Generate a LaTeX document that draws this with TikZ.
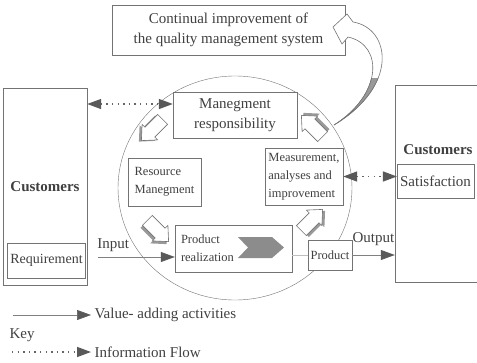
\documentclass[tikz,border=0pt]{standalone}
\usepackage{fontspec}
\setmainfont{Liberation Serif}
\usetikzlibrary{arrows.meta,positioning,calc}
\newcommand\bigtxt{\fontsize{15}{20}\selectfont}
\newcommand\smalltxt{\fontsize{12.5}{18}\selectfont}
% outline of the bent arrow back to the improvement box
\newcommand\bendpath{(353,22) .. controls (390,28) and (400,85) .. (334,125)
  .. controls (382,95) and (384,45) .. (348,37) -- (342,44) -- (333,27)
  -- (347,14) -- cycle}
\tikzset{
  box/.style={rectangle, draw=black!55, fill=white, text=black!75,
    align=center, font=\bigtxt, inner sep=3pt},
  smallbox/.style={box, font=\smalltxt, align=left, inner sep=2pt},
  lbl/.style={font=\bigtxt, text=black!75},
  flow/.style={-{Triangle[length=14pt, width=10pt, color=black!65]},
    draw=black!50, line width=0.6pt},
  infoline/.style={draw=black!60, line width=1.4pt,
    dash pattern=on 1.4pt off 4.2pt},
  infoflow/.style={infoline, {Triangle[length=14pt, width=10pt, color=black!65]}-{Triangle[length=14pt, width=10pt, color=black!65]}},
  hollow/.style={draw=black!55, fill=white, line width=0.6pt},
  shade/.style={fill=black!40},
  pics/blockarr/.style={code={
    \path[pic actions] (-15,-7) -- (3,-7) -- (3,-11) -- (15,0) -- (3,11)
      -- (3,7) -- (-15,7) -- cycle;
  }},
}

\begin{document}
\begin{tikzpicture}[x=1pt, y=-1pt]
\useasboundingbox (0,0) rectangle (477,362);
% quality management system
\draw[black!55] (235,188) ellipse [x radius=117pt, y radius=112pt];
\node[box, minimum width=233pt, minimum height=50pt] (cip) at (228.5,30)
  {Continual improvement of\\the quality management system};
\begin{scope}
  \filldraw[hollow] \bendpath;
  \clip (320,78) rectangle (400,130);
  \filldraw[hollow, fill=black!40] \bendpath;
\end{scope}
% customers
\node[box, minimum width=84pt, minimum height=197pt, font=\bigtxt\bfseries] (custL) at (45,186.5) {Customers};
\node[box, minimum width=77pt, minimum height=35pt, font=\fontsize{14}{17}\selectfont] (req) at (46.5,260.5) {Requirement};
\node[box, minimum width=95pt, minimum height=197pt] (custR) at (442.5,183.5) {};
\node[lbl, font=\bigtxt\bfseries] (custRtxt) at (438,150) {Customers};
\node[box, minimum width=75pt, minimum height=34pt] (sat) at (435.5,181) {Satisfaction};
% processes
\node[box, minimum width=124pt, minimum height=46pt] (mgmt) at (235,115) {Manegment\\responsibility};
\node[smallbox, minimum width=73pt, minimum height=48pt] (res) at (164.5,182) {Resource\\Manegment};
\node[smallbox, minimum width=117pt, minimum height=47pt, text width=105pt] (real) at (233.5,248.5) {Product\\realization};
\fill[black!45] (238,237) -- (272,237) -- (284,247.5) -- (272,258) -- (238,258) -- (248,247.5) -- cycle;
\node[smallbox, minimum width=78pt, minimum height=57pt] (meas) at (304,176.5) {Measurement,\\analyses and\\improvement};
\node[smallbox, minimum width=44pt, minimum height=30pt, inner sep=1pt] (prod) at (330,255) {Product};
% cycle arrows
\pic[shade, rotate=225] at (149.5,131) {blockarr};
\pic[hollow, rotate=225] at (152,130) {blockarr};
\pic[shade, rotate=-45] at (156,233.5) {blockarr};
\pic[hollow, rotate=-45] at (158,231) {blockarr};
\pic[shade, rotate=45] at (314.5,221.5) {blockarr};
\pic[hollow, rotate=45] at (312,220) {blockarr};
\pic[shade, rotate=135] at (314,123.5) {blockarr};
\pic[hollow, rotate=135] at (312,126) {blockarr};
% flows
\draw[flow] ($(req.east)+(12,-3.5)$) -- node[lbl, above=2pt, pos=0.2] (inlbl) {Input} ($(real.west |- req.east)+(0,-3.5)$);
\draw[black!25, line width=0.5pt] (real.east |- prod.west) -- (prod.west);
\draw[flow] (prod.east) -- node[lbl, above=6pt] (outlbl) {Output} (prod.east -| custR.west);
\draw[infoflow] ($(custL.east |- mgmt.west)+(0,-11)$) -- ($(mgmt.west)+(0,-11)$);
\draw[infoflow] (meas.east) -- (meas.east -| sat.west);
% key
\coordinate (vk) at (13,315);
\node[lbl, anchor=west] (vtxt) at (91,315) {Value- adding activities};
\draw[flow] (vk) -- (vtxt.west);
\node[lbl, anchor=west] (key) at (6,335) {Key};
\coordinate (ik) at (12,352);
\node[lbl, anchor=west] (itxt) at (91,352) {Information Flow};
\draw[infoline, -{Triangle[length=14pt, width=10pt, color=black!65]}] (ik) -- (itxt.west);
\end{tikzpicture}
\end{document}
